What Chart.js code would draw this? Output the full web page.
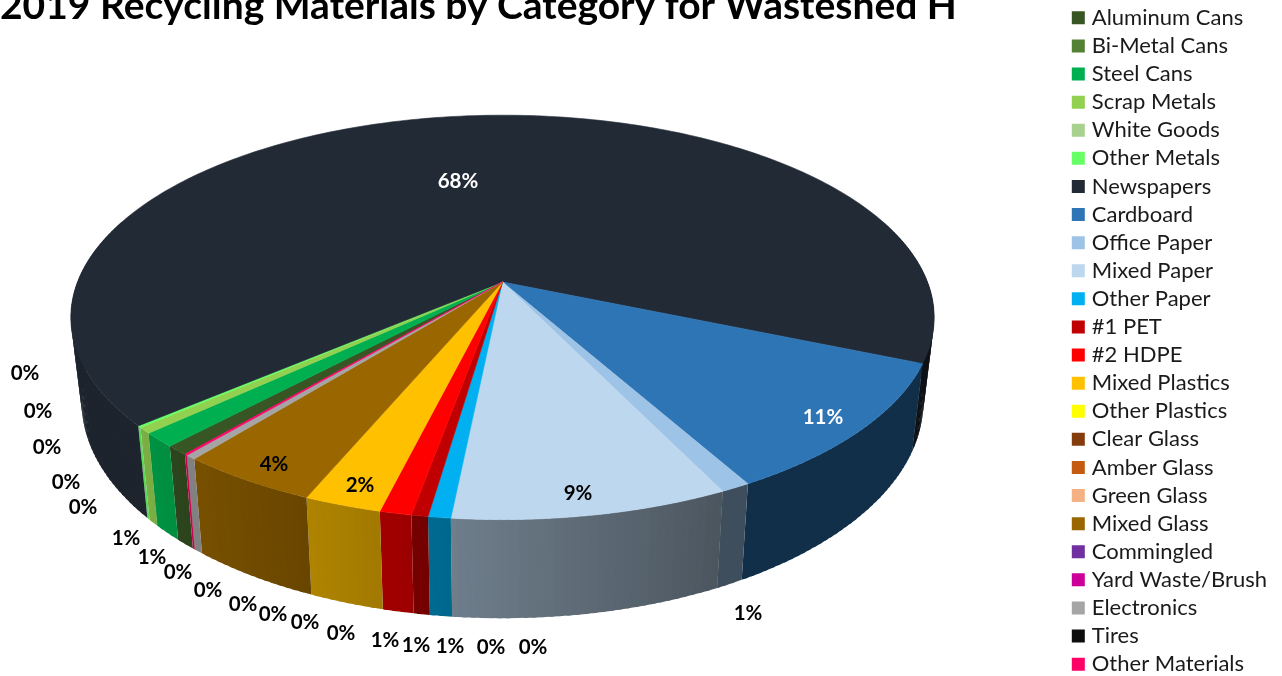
<!DOCTYPE html>
<html>
<head>
<meta charset="utf-8">
<title>2019 Recycling Materials</title>
<script src="https://cdn.jsdelivr.net/npm/chart.js@4"></script>
<style>
html, body { margin: 0; padding: 0; background: #fff; overflow: hidden; width: 1282px; height: 676px; }
/* canvas sticks out above the page: the title is cut off at the top in the original */
#chart { position: absolute; left: 0; top: -50px; }
</style>
</head>
<body>
<canvas id="chart" width="1282" height="782"></canvas>
<script>
const titleText = '2019 Recycling Materials by Category for Wasteshed H';

const categories = ['Aluminum Cans', 'Bi-Metal Cans', 'Steel Cans', 'Scrap Metals', 'White Goods', 'Other Metals',
    'Newspapers', 'Cardboard', 'Office Paper', 'Mixed Paper', 'Other Paper', '#1 PET', '#2 HDPE', 'Mixed Plastics',
    'Other Plastics', 'Clear Glass', 'Amber Glass', 'Green Glass', 'Mixed Glass', 'Commingled', 'Yard Waste/Brush',
    'Electronics', 'Tires', 'Other Materials'];

const shares = [0.76, 0, 1.16, 0.48, 0, 0.14, 68.2, 10.61, 0.95, 8.87, 0.72, 0.53, 1.02, 2.49, 0, 0, 0, 0, 4.49, 0, 0,
    0.35, 0, 0.09];

const colors = ['#375623', '#548235', '#00B050', '#92D050', '#A9D18E', '#66FF66', '#222A35', '#2E75B6', '#9DC3E6',
    '#BDD7EE', '#00B0F0', '#C00000', '#FF0000', '#FFC000', '#FFFF00', '#843C0C', '#C55A11', '#F4B183', '#996600',
    '#7030A0', '#CC0099', '#A5A5A5', '#0D0D0D', '#FF0066'];

// label centres on the page, same order as categories
const labelSpots = [[126, 537], [491, 646], [152, 556], [83, 506], [66, 481], [47, 446], [458, 180], [823, 416],
    [748, 612], [578, 492], [450, 645], [416, 644], [385, 639], [360, 484], [341, 632], [305, 621], [273, 613],
    [243, 603], [274, 463], [208, 589], [178, 571], [533, 646], [38, 410], [25, 372]];

const CANVAS_TOP = 50;

// tilted disc, found from the slice edges in the picture
const disc = { cx: 502.5, cy: 282, r: 425, k: 196, p: 0.175 };
const base = { sx: 0.975, sy: 1.07, cy: 364 };

function rimPoint(a) {
    const w = 1 - disc.p * Math.sin(a);
    return [disc.cx + disc.r * Math.cos(a) / w, disc.cy + disc.k * Math.sin(a) / w];
}

function basePoint(a) {
    const p = rimPoint(a);
    return [disc.cx + base.sx * (p[0] - disc.cx), base.cy + base.sy * (p[1] - disc.cy)];
}

// wall brightness, darker towards the right
function wallShade(a, index) {
    if (categories[index] === 'Newspapers' && Math.cos(a) < 0) return 0.85;
    const deg = (a * 180 / Math.PI) % 360;
    return Math.min(0.85, Math.max(0.4, 0.4 + (deg - 64) / 76 * 0.45));
}

function shadeColor(hex, f) {
    const n = parseInt(hex.slice(1), 16);
    return 'rgb(' + Math.round((n >> 16 & 255) * f) + ',' + Math.round((n >> 8 & 255) * f) + ',' + Math.round((n & 255) * f) + ')';
}

const STEP = Math.PI / 180;

const tiltedPie = {
    id: 'tiltedPie',
    beforeDatasetsDraw(chart) {
        const ctx = chart.ctx;
        const arcs = chart.getDatasetMeta(0).data;
        ctx.save();
        ctx.translate(0, CANVAS_TOP);

        // walls first, the top face covers the back part
        arcs.forEach((arc, i) => {
            if (!shares[i]) return;
            const end = arc.endAngle;
            for (let a = arc.startAngle; a < end; a += STEP) {
                const b = Math.min(a + STEP * 1.5, end);
                if (Math.sin(a) < -0.3 && Math.sin(b) < -0.3) continue;
                const p1 = rimPoint(a), p2 = rimPoint(b), p3 = basePoint(b), p4 = basePoint(a);
                ctx.beginPath();
                ctx.moveTo(p1[0], p1[1]);
                ctx.lineTo(p2[0], p2[1]);
                ctx.lineTo(p3[0], p3[1]);
                ctx.lineTo(p4[0], p4[1]);
                ctx.closePath();
                ctx.fillStyle = shadeColor(colors[i], wallShade(a, i));
                ctx.fill();
            }
        });

        arcs.forEach((arc, i) => {
            if (!shares[i]) return;
            ctx.beginPath();
            ctx.moveTo(disc.cx, disc.cy);
            for (let a = arc.startAngle; a < arc.endAngle; a += STEP) {
                const p = rimPoint(a);
                ctx.lineTo(p[0], p[1]);
            }
            const last = rimPoint(arc.endAngle);
            ctx.lineTo(last[0], last[1]);
            ctx.closePath();
            ctx.fillStyle = colors[i];
            ctx.strokeStyle = colors[i];
            ctx.lineWidth = 0.6;
            ctx.fill();
            ctx.stroke();
        });

        const total = shares.reduce((s, v) => s + v, 0);
        ctx.font = 'bold 20.5px Lato';
        ctx.textAlign = 'center';
        ctx.textBaseline = 'middle';
        categories.forEach((name, i) => {
            const dark = name === 'Newspapers' || name === 'Cardboard';
            ctx.fillStyle = dark ? '#ffffff' : '#000000';
            ctx.fillText(Math.round(shares[i] / total * 100) + '%', labelSpots[i][0], labelSpots[i][1] + 1);
        });
        ctx.restore();
        return false;
    }
};

new Chart(document.getElementById('chart'), {
    type: 'pie',
    data: {
        labels: categories,
        datasets: [{
            data: shares,
            backgroundColor: colors,
            borderWidth: 0
        }]
    },
    options: {
        responsive: false,
        animation: false,
        rotation: 220.35,
        layout: { padding: { right: 5 } },
        plugins: {
            tooltip: { enabled: false },
            title: {
                display: true,
                text: titleText,
                align: 'start',
                color: '#000000',
                font: { family: 'Lato', size: 39, weight: 'bold' },
                padding: { top: 33, bottom: 4 }
            },
            legend: {
                position: 'right',
                fullSize: true,
                labels: {
                    boxWidth: 5,
                    boxHeight: 5,
                    padding: 6.1,
                    color: '#1a1a1a',
                    font: { family: 'Lato', size: 22 },
                    generateLabels(chart) {
                        const items = Chart.overrides.pie.plugins.legend.labels.generateLabels(chart);
                        items.forEach(item => {
                            item.strokeStyle = item.fillStyle;
                            item.lineWidth = 8;
                        });
                        return items;
                    }
                }
            }
        }
    },
    plugins: [tiltedPie]
});
</script>
</body>
</html>
